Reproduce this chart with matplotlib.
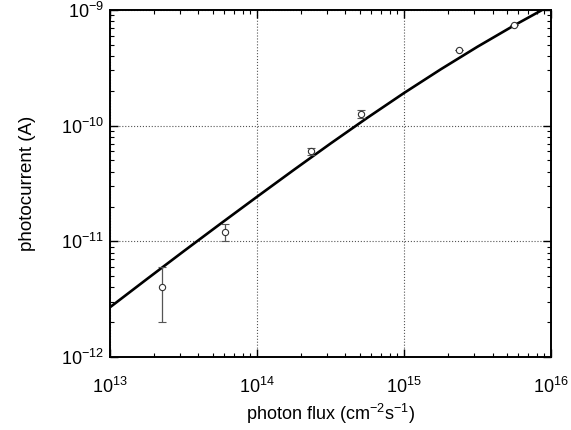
import matplotlib
matplotlib.use("Agg")
import matplotlib.pyplot as plt
from matplotlib.ticker import LogLocator, NullFormatter

plt.rcParams["font.family"] = ["Liberation Sans", "DejaVu Sans"]
plt.rcParams["mathtext.fontset"] = "custom"
plt.rcParams["mathtext.rm"] = "Liberation Sans"
plt.rcParams["mathtext.it"] = "Liberation Sans:italic"

# measured points
flux = [2.26e13, 6.06e13, 2.33e14, 5.1e14, 2.37e15, 5.6e15]
current = [4.0e-12, 1.2e-11, 6.0e-11, 1.26e-10, 4.5e-10, 7.4e-10]
err_lo = [2.0e-12, 0.2e-11, 0.4e-11, 0.1e-10, 0.0, 0.0]
err_hi = [2.0e-12, 0.2e-11, 0.4e-11, 0.1e-10, 0.0, 0.0]

fit_flux = [1e13, 1.78e13, 3.16e13, 5.62e13, 1e14, 1.78e14, 3.16e14,
            5.62e14, 1e15, 1.78e15, 3.16e15, 5.62e15, 1e16]
fit_current = [2.69e-12, 4.71e-12, 8.18e-12, 1.413e-11, 2.427e-11,
               4.145e-11, 7.00e-11, 1.168e-10, 1.916e-10, 3.074e-10,
               4.814e-10, 7.37e-10, 1.103e-9]

x_ticks = [1e13, 1e14, 1e15, 1e16]
y_ticks = [1e-12, 1e-11, 1e-10, 1e-9]

fig = plt.figure(figsize=(5.71, 4.30), dpi=100)
ax = fig.add_axes([0.1926, 0.1698, 0.7724, 0.8069])

ax.plot(fit_flux, fit_current, color="black", lw=1.9, zorder=3,
        solid_joinstyle="round")
ax.errorbar(flux, current, yerr=[err_lo, err_hi], fmt="o", ms=4.5,
            mfc="white", mec="#333333", mew=0.8, ecolor="#555555",
            elinewidth=0.9, capsize=3, capthick=0.9, zorder=4)

ax.set_xscale("log")
ax.set_yscale("log")
ax.set_xlim(1e13, 1e16)
ax.set_ylim(1e-12, 1e-9)

ax.set_xticks(x_ticks)
ax.set_yticks(y_ticks)
ax.xaxis.set_minor_locator(LogLocator(base=10, subs=range(2, 10), numticks=20))
ax.yaxis.set_minor_locator(LogLocator(base=10, subs=range(2, 10), numticks=20))
ax.xaxis.set_minor_formatter(NullFormatter())
ax.yaxis.set_minor_formatter(NullFormatter())

ax.tick_params(which="both", direction="in", top=True, right=True)
ax.tick_params(which="major", length=6, width=1.0, labelsize=13)
ax.tick_params(which="minor", length=3, width=0.8)
ax.tick_params(axis="x", which="major", pad=14)
ax.tick_params(axis="y", which="major", pad=4)

for s in ax.spines.values():
    s.set_linewidth(1.4)

ax.grid(True, which="major", linestyle=":", color="#555555", linewidth=0.8)

ax.set_xlabel("photon flux (cm$^{-2}$s$^{-1}$)", fontsize=13, labelpad=4)
ax.set_ylabel("photocurrent (A)", fontsize=13.5, labelpad=18)

fig.savefig("out.png", dpi=100)
